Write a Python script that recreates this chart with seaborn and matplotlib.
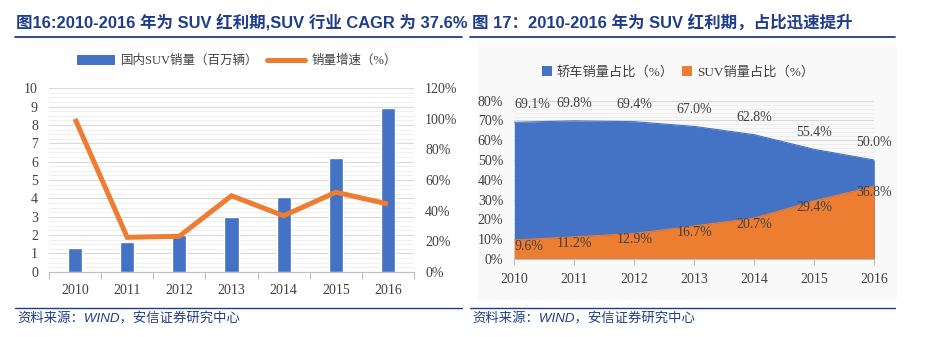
import numpy as np
import pandas as pd
import matplotlib
matplotlib.use("Agg")
import matplotlib.pyplot as plt
import seaborn as sns
from matplotlib.lines import Line2D
from matplotlib.patches import Patch, Rectangle
from matplotlib.ticker import MultipleLocator, FuncFormatter

# ---------------- data ----------------
years = ["2010", "2011", "2012", "2013", "2014", "2015", "2016"]
suv_sales = [1.3, 1.6, 2.0, 3.0, 4.1, 6.2, 8.9]          # 百万辆
suv_growth = [1.00, 0.225, 0.232, 0.497, 0.366, 0.52, 0.443]  # 增速
sedan_share = [69.1, 69.8, 69.4, 67.0, 62.8, 55.4, 50.0]
suv_share = [9.6, 11.2, 12.9, 16.7, 20.7, 29.4, 36.8]

title_left = "图16:2010-2016 年为 SUV 红利期,SUV 行业 CAGR 为 37.6%"
title_right = "图 17：2010-2016 年为 SUV 红利期，占比迅速提升"
source_text = "资料来源：WIND，安信证券研究中心"
legend_left = ["国内SUV销量（百万辆）", "销量增速（%）"]
legend_right = ["轿车销量占比（%）", "SUV销量占比（%）"]

BLUE = "#4472C4"
ORANGE = "#ED7D31"
NAVY = "#1f3d8c"
TXT = "#404040"

sns.set_theme(style="white")
plt.rcParams["font.family"] = ["Liberation Serif", "Noto Sans CJK SC"]
SANS = ["Liberation Sans", "Noto Sans CJK SC"]

W, H = 927, 337
fig = plt.figure(figsize=(W / 100, H / 100), dpi=100)
fig.patch.set_facecolor("white")

def fx(px):
    return px / W

def fy(py):
    return 1 - py / H

# background panel for right chart
fig.add_artist(Rectangle((fx(478), fy(300)), fx(897) - fx(478), fy(45) - fy(300),
                         transform=fig.transFigure, facecolor="#f9f9f9",
                         edgecolor="none", zorder=0))

# ---------------- left chart ----------------
axL = fig.add_axes([fx(49), fy(271.7), fx(414) - fx(49), fy(88.3) - fy(271.7)])
df_l = pd.DataFrame({"year": years, "sales": suv_sales, "growth": suv_growth})
sns.barplot(data=df_l, x="year", y="sales", color=BLUE, saturation=1,
            width=0.27, ax=axL, zorder=3)
axL.set_xlim(-0.5, len(years) - 0.5)
axL.set_ylim(0, 10)
axL.yaxis.set_major_locator(MultipleLocator(1))
axL.yaxis.set_minor_locator(MultipleLocator(0.25))
axL.grid(axis="y", which="major", color="#d9d9d9", lw=0.8)
axL.grid(axis="y", which="minor", color="#ececec", lw=0.6)
axL.set_axisbelow(True)
for s in ["top", "right", "left"]:
    axL.spines[s].set_visible(False)
axL.spines["bottom"].set_color("#bfbfbf")
axL.spines["bottom"].set_linewidth(0.8)
axL.set_xlabel("")
axL.set_ylabel("")
axL.set_xticks(np.arange(len(years)))
axL.set_xticklabels(years)
axL.set_xticks(np.arange(len(years) + 1) - 0.5, minor=True)
axL.tick_params(axis="x", which="major", length=0, pad=9, labelsize=10, labelcolor=TXT)
axL.tick_params(axis="x", which="minor", length=5, color="#bfbfbf", width=0.8, bottom=True)
axL.tick_params(axis="y", which="both", length=0, pad=8, labelsize=10, labelcolor=TXT)

axR = axL.twinx()
sns.lineplot(x=np.arange(len(years)), y=suv_growth, color=ORANGE, lw=3.6,
             ax=axR, solid_joinstyle="miter", solid_capstyle="butt")
axR.set_xlim(-0.5, len(years) - 0.5)
axR.set_ylim(0, 1.2)
axR.yaxis.set_major_locator(MultipleLocator(0.2))
axR.yaxis.set_major_formatter(FuncFormatter(lambda v, p: f"{v*100:.0f}%"))
axR.tick_params(axis="y", length=0, pad=8, labelsize=10, labelcolor=TXT)
for s in ["top", "right", "left", "bottom"]:
    axR.spines[s].set_visible(False)
axR.grid(False)

handles = [Patch(facecolor=BLUE, edgecolor="none"),
           Line2D([0], [0], color=ORANGE, lw=3.6)]
fig.legend(handles, legend_left, loc="center", bbox_to_anchor=(fx(237), fy(61)),
           ncol=2, frameon=False, fontsize=9, handlelength=3.0, handleheight=0.8,
           columnspacing=0.7, handletextpad=0.5, labelcolor=TXT)

# ---------------- right chart ----------------
ax3 = fig.add_axes([fx(514.3), fy(259), fx(874.3) - fx(514.3), fy(100.7) - fy(259)])
ax3.set_facecolor("none")
xs = np.arange(len(years))
ax3.fill_between(xs, 0, sedan_share, color=BLUE, lw=0, zorder=2)
ax3.fill_between(xs, 0, suv_share, color=ORANGE, lw=0, zorder=3)
sns.lineplot(x=xs, y=sedan_share, color=BLUE, lw=0.8, ax=ax3, zorder=2)
sns.lineplot(x=xs, y=suv_share, color=ORANGE, lw=0.8, ax=ax3, zorder=3)
ax3.set_xlim(0, len(years) - 1)
ax3.set_ylim(0, 80)
ax3.yaxis.set_major_locator(MultipleLocator(10))
ax3.yaxis.set_minor_locator(MultipleLocator(2))
ax3.yaxis.set_major_formatter(FuncFormatter(lambda v, p: f"{v:.0f}%"))
ax3.grid(axis="y", which="major", color="#d9d9d9", lw=0.8, zorder=0)
ax3.grid(axis="y", which="minor", color="#ececec", lw=0.6, zorder=0)
ax3.set_axisbelow(True)
for s in ["top", "right", "left"]:
    ax3.spines[s].set_visible(False)
ax3.spines["bottom"].set_color("#bfbfbf")
ax3.spines["bottom"].set_linewidth(0.8)
ax3.spines["bottom"].set_zorder(5)
ax3.set_xticks(xs)
ax3.set_xticklabels(years)
ax3.tick_params(axis="x", length=4, color="#bfbfbf", width=0.8, bottom=True,
                pad=6, labelsize=10, labelcolor=TXT)
ax3.tick_params(axis="y", which="both", length=0, pad=8, labelsize=10, labelcolor=TXT)
ax3.set_xlabel("")
ax3.set_ylabel("")

for i, v in enumerate(sedan_share):
    ax3.annotate(f"{v:.1f}%", (i, v), xytext=(0, 12.5), textcoords="offset points",
                 ha="left" if i == 0 else "center", va="center", fontsize=10,
                 color=TXT, zorder=6, annotation_clip=False)
for i, v in enumerate(suv_share):
    ax3.annotate(f"{v:.1f}%", (i, v), xytext=(0, -4.5), textcoords="offset points",
                 ha="left" if i == 0 else "center", va="center", fontsize=10,
                 color=TXT, zorder=6, annotation_clip=False)

handles2 = [Patch(facecolor=BLUE, edgecolor="none"), Patch(facecolor=ORANGE, edgecolor="none")]
fig.legend(handles2, legend_right, loc="center", bbox_to_anchor=(fx(678), fy(72.5)),
           ncol=2, frameon=False, fontsize=9.5, handlelength=0.75, handleheight=0.75,
           columnspacing=0.6, handletextpad=0.4, labelcolor=TXT)

# ---------------- titles, rules, sources ----------------
fig.text(fx(16), fy(22), title_left, fontsize=11.9, fontweight="bold", color=NAVY,
         family=SANS, ha="left", va="center")
fig.text(fx(472), fy(22), title_right, fontsize=11.9, fontweight="bold", color=NAVY,
         family=SANS, ha="left", va="center")
for x0, x1 in [(15, 462), (470, 895)]:
    fig.add_artist(Line2D([fx(x0), fx(x1)], [fy(37.3)] * 2, color=NAVY, lw=1.3,
                          transform=fig.transFigure))
    fig.add_artist(Line2D([fx(x0), fx(x1)], [fy(307.7)] * 2, color=NAVY, lw=1.0,
                          transform=fig.transFigure))
for x0 in [17, 472]:
    fig.text(fx(x0), fy(319), source_text, fontsize=9.6, style="italic", color=NAVY,
             family=SANS, ha="left", va="center")

fig.savefig("out.png", dpi=100)
